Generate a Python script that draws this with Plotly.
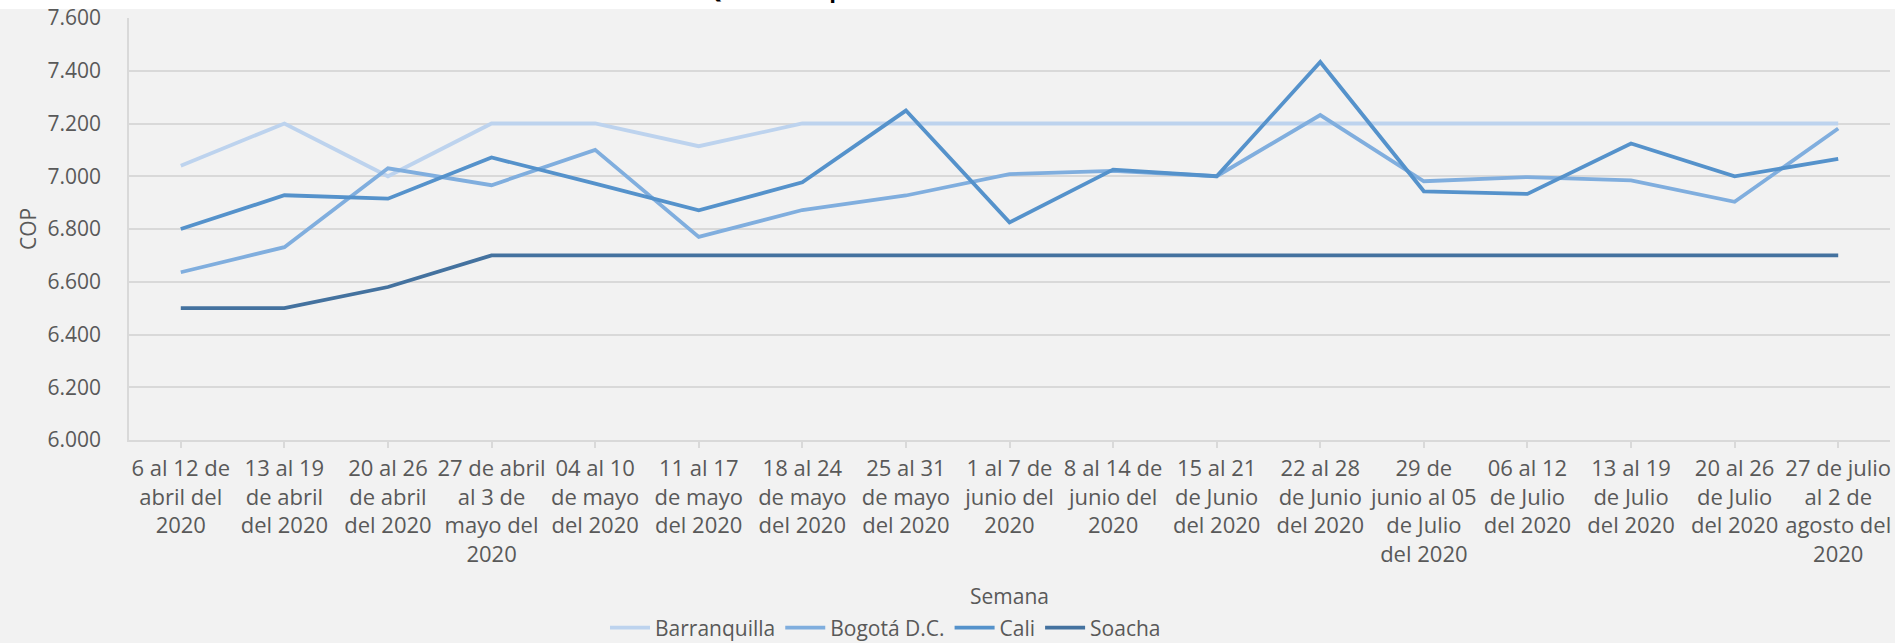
import plotly.graph_objects as go

# ---- data ----
semanas = [
    "6 al 12 de<br>abril del<br>2020",
    "13 al 19<br>de abril<br>del 2020",
    "20 al 26<br>de abril<br>del 2020",
    "27 de abril<br>al 3 de<br>mayo del<br>2020",
    "04 al 10<br>de mayo<br>del 2020",
    "11 al 17<br>de mayo<br>del 2020",
    "18 al 24<br>de mayo<br>del 2020",
    "25 al 31<br>de mayo<br>del 2020",
    "1 al 7 de<br>junio del<br>2020",
    "8 al 14 de<br>junio del<br>2020",
    "15 al 21<br>de Junio<br>del 2020",
    "22 al 28<br>de Junio<br>del 2020",
    "29 de<br>junio al 05<br>de Julio<br>del 2020",
    "06 al 12<br>de Julio<br>del 2020",
    "13 al 19<br>de Julio<br>del 2020",
    "20 al 26<br>de Julio<br>del 2020",
    "27 de julio<br>al 2 de<br>agosto del<br>2020",
]

barranquilla = [7040, 7200, 7000, 7200, 7200, 7114, 7200, 7200, 7200, 7200, 7200, 7200, 7200, 7200, 7200, 7200, 7200]
bogota = [6636, 6731, 7030, 6966, 7100, 6770, 6872, 6927, 7008, 7020, 7000, 7232, 6981, 6997, 6984, 6903, 7181]
cali = [6800, 6928, 6915, 7071, 6972, 6871, 6977, 7249, 6825, 7025, 7000, 7433, 6943, 6933, 7124, 7000, 7066]
soacha = [6500, 6500, 6580, 6700, 6700, 6700, 6700, 6700, 6700, 6700, 6700, 6700, 6700, 6700, 6700, 6700, 6700]

series_names = ["Barranquilla", "Bogotá D.C.", "Cali", "Soacha"]
series_values = [barranquilla, bogota, cali, soacha]
series_colors = ["#BDD3EE", "#80AEDE", "#5592CB", "#44729F"]

title_text = "Queso Campesino: Precio Promedio Semanal"

FONT = "Open Sans, Noto Sans, sans-serif"
TXT = "#595959"
GRID = "#D9D9D9"
BG = "#F2F2F2"

W, H = 1895, 643
L, R, T, B = 129, 5, 18, 203
plot_h = H - T - B

fig = go.Figure()
for name, vals, col in zip(series_names, series_values, series_colors):
    fig.add_trace(go.Scatter(
        x=list(range(len(semanas))), y=vals, name=name, mode="lines",
        line=dict(color=col, width=3.8),
    ))

def py(px_from_top):
    return (H - B - px_from_top) / plot_h

def px_x(px):
    return (px - L) / (W - L - R)

fig.update_layout(
    width=W, height=H,
    margin=dict(l=L, r=R, t=T, b=B, autoexpand=False),
    paper_bgcolor=BG, plot_bgcolor=BG,
    separators=",.",
    font=dict(family=FONT, size=21, color=TXT),
    showlegend=True,
    legend=dict(
        orientation="h", x=px_x(605), xanchor="left", y=py(628), yanchor="middle",
        font=dict(family=FONT, size=21, color=TXT), bgcolor="rgba(0,0,0,0)",
        itemwidth=40, tracegroupgap=0,
    ),
    xaxis=dict(
        tickmode="array", tickvals=list(range(len(semanas))), ticktext=semanas,
        range=[-0.5, len(semanas) - 0.5],
        showline=True, linecolor=GRID, linewidth=1.5,
        ticks="outside", ticklen=6, tickcolor=GRID, tickwidth=1.5,
        showgrid=False, zeroline=False, tickangle=0,
        tickfont=dict(family=FONT, size=22, color=TXT),
        ticklabelstandoff=2,
    ),
    yaxis=dict(
        range=[6000, 7600], dtick=200, tick0=6000, tickformat=",d",
        showline=True, linecolor=GRID, linewidth=1.5,
        showgrid=True, gridcolor=GRID, gridwidth=1.5, zeroline=False,
        ticks="", tickfont=dict(family=FONT, size=21, color=TXT),
        ticklabelstandoff=22,
    ),
    shapes=[dict(type="rect", xref="paper", yref="paper",
                 x0=px_x(-5), x1=px_x(W + 5), y0=py(9), y1=py(-5),
                 fillcolor="white", line=dict(width=0), layer="below")],
    annotations=[
        dict(text="Semana", xref="paper", yref="paper", x=px_x(1009), y=py(596),
             xanchor="center", yanchor="middle", showarrow=False,
             font=dict(family=FONT, size=21, color=TXT)),
        dict(text="COP", xref="paper", yref="paper", x=px_x(28), y=py(229),
             xanchor="center", yanchor="middle", showarrow=False, textangle=-90,
             font=dict(family=FONT, size=21, color=TXT)),
        dict(text="<b>" + title_text + "</b>", xref="paper", yref="paper", x=px_x(949), y=py(6),
             xanchor="center", yanchor="bottom", showarrow=False,
             font=dict(family=FONT, size=22, color="#000000")),
    ],
)

fig.write_html(
    "out.html",
    config={"displayModeBar": False},
    post_script="document.body.style.margin='0';document.body.style.overflow='hidden';",
)
